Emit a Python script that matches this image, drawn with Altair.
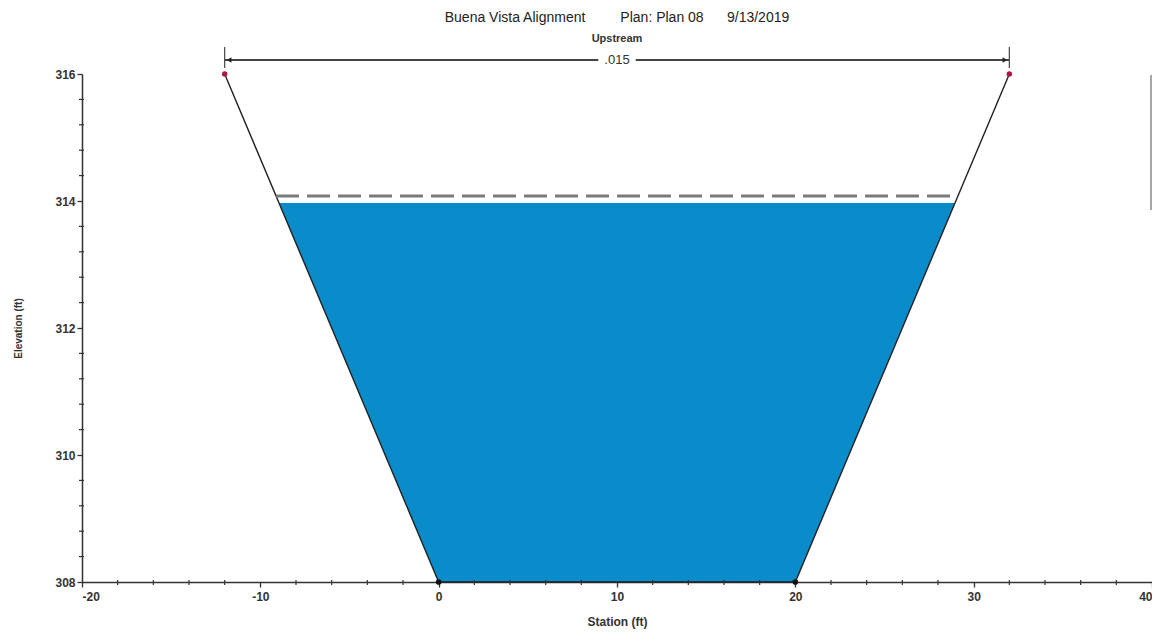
import altair as alt
import numpy as np
import pandas as pd

# ---- data ----
station = [-12.0, 0.0, 20.0, 32.0]          # ground profile stations (ft)
ground_elev = [316.0, 308.0, 308.0, 316.0]  # ground profile elevations (ft)
bank_station = [-12.0, 32.0]                # bank stations (red dots)
bank_elev = [316.0, 316.0]
toe_station = [0.0, 20.0]                   # channel toes (black dots)
toe_elev = [308.0, 308.0]
ws_elev = 313.97                            # water surface
egl_elev = 314.08                           # energy grade line
manning_n = ".015"

x_major = [-20, -10, 0, 10, 20, 30, 40]
y_major = [308, 310, 312, 314, 316]
x_minor = [v for v in range(-20, 41, 2) if v % 10 != 0]
y_minor = [round(308 + 0.4 * i, 1) for i in range(21) if i % 5 != 0]

NB = "\u00a0"
title_text = "Buena Vista Alignment" + NB * 9 + "Plan: Plan 08" + NB * 6 + "9/13/2019"
subtitle_text = "Upstream"

# ---- derived tables ----
ground = pd.DataFrame({"sta": station, "elev": ground_elev})
ws_left = float(np.interp(ws_elev, ground_elev[1::-1], station[1::-1]))
ws_right = float(np.interp(ws_elev, ground_elev[2:], station[2:]))
water = pd.DataFrame({
    "elev": [min(ground_elev), ws_elev],
    "xl": [station[1], ws_left],
    "xr": [station[2], ws_right],
})
egl_left = float(np.interp(egl_elev, ground_elev[1::-1], station[1::-1]))
egl_right = float(np.interp(egl_elev, ground_elev[2:], station[2:]))
egl = pd.DataFrame({"x": [egl_left], "x2": [egl_right], "y": [egl_elev]})
banks = pd.DataFrame({"sta": bank_station, "elev": bank_elev})
toes = pd.DataFrame({"sta": toe_station, "elev": toe_elev})
mid = (bank_station[0] + bank_station[1]) / 2
gap = 1.05
arrow_segs = pd.DataFrame({"x": [bank_station[0], mid + gap], "x2": [mid - gap, bank_station[1]]})
n_label = pd.DataFrame({"x": [mid], "t": [manning_n]})
arrow_heads = pd.DataFrame({"x": [bank_station[0] + 0.25, bank_station[1] - 0.25],
                            "shape": ["triangle-left", "triangle-right"]})
xminor_df = pd.DataFrame({"v": x_minor})
yminor_df = pd.DataFrame({"v": y_minor})

FONT = "Liberation Sans"
xdom = [-20, 40]
ydom = [308, 316]
PLOT_H = 508

xscale = alt.Scale(domain=xdom, nice=False, zero=False)
yscale = alt.Scale(domain=ydom, nice=False, zero=False)

xaxis = alt.Axis(
    values=x_major, title="Station (ft)", grid=False, labelOverlap=False,
    labelExpr="'' + round(datum.value)", tickSize=5,
    labelPadding=4, titlePadding=14, titleFontSize=12,
)
yaxis = alt.Axis(
    values=y_major, title="Elevation (ft)", grid=False, labelOverlap=False,
    labelExpr="'' + round(datum.value)", tickSize=5,
    labelPadding=2, titlePadding=31, titleFontSize=10,
)

WATER = "#0a8bca"
AXC = "#333333"

area = alt.Chart(water).mark_area(orient="horizontal", color=WATER, opacity=1).encode(
    y=alt.Y("elev:Q", scale=yscale, axis=yaxis),
    x=alt.X("xl:Q", scale=xscale, axis=xaxis, stack=None),
    x2="xr:Q",
)

ground_line = alt.Chart(ground).mark_line(color="#222222", strokeWidth=1.4, clip=False).encode(
    x=alt.X("sta:Q", scale=xscale),
    y=alt.Y("elev:Q", scale=yscale),
    order=alt.Order("sta:Q"),
)

egl_line = alt.Chart(egl).mark_rule(color="#7a7a7a", strokeWidth=3, strokeDash=[23, 8]).encode(
    x=alt.X("x:Q", scale=xscale), x2="x2:Q", y=alt.Y("y:Q", scale=yscale)
)

bank_pts = alt.Chart(banks).mark_point(filled=True, color="#b0163f", size=30, opacity=1, clip=False).encode(
    x=alt.X("sta:Q", scale=xscale), y=alt.Y("elev:Q", scale=yscale)
)
toe_pts = alt.Chart(toes).mark_point(filled=True, color="#111111", size=32, opacity=1, clip=False).encode(
    x=alt.X("sta:Q", scale=xscale), y=alt.Y("elev:Q", scale=yscale)
)

arrow = alt.Chart(arrow_segs).mark_rule(color="#444444", strokeWidth=2, clip=False).encode(
    x=alt.X("x:Q", scale=xscale), x2="x2:Q", y=alt.value(-14)
)
ends = alt.Chart(banks).mark_rule(color="#444444", strokeWidth=1.2, clip=False).encode(
    x=alt.X("sta:Q", scale=xscale), y=alt.value(-27), y2=alt.value(-6)
)
heads = alt.Chart(arrow_heads).mark_point(filled=True, color="#222222", size=28, opacity=1, clip=False).encode(
    x=alt.X("x:Q", scale=xscale), y=alt.value(-14),
    shape=alt.Shape("shape:N", scale=None, legend=None),
)
n_text = alt.Chart(n_label).mark_text(font=FONT, fontSize=13, color="#333333", baseline="middle", clip=False).encode(
    x=alt.X("x:Q", scale=xscale), y=alt.value(-14), text="t:N"
)
legend_edge = alt.Chart(n_label).mark_rule(color="#8a8a8a", strokeWidth=1.5, clip=False).encode(
    x=alt.value(1069), y=alt.value(1), y2=alt.value(136)
)

# minor ticks along both axes
xminor = alt.Chart(xminor_df).mark_rule(color=AXC, strokeWidth=1.2, clip=False).encode(
    x=alt.X("v:Q", scale=xscale), y=alt.value(PLOT_H - 2), y2=alt.value(PLOT_H + 3)
)
yminor = alt.Chart(yminor_df).mark_rule(color=AXC, strokeWidth=1.2, clip=False).encode(
    y=alt.Y("v:Q", scale=yscale), x=alt.value(-3), x2=alt.value(2)
)

chart = alt.layer(
    area, ground_line, egl_line, bank_pts, toe_pts, arrow, ends, heads, n_text,
    legend_edge, xminor, yminor
).properties(
    width=1070, height=PLOT_H,
    autosize=alt.AutoSizeParams(type="none"),
    padding={"left": 74, "top": 66, "right": 0, "bottom": 47},
    title=alt.TitleParams(
        text=title_text, subtitle=subtitle_text, anchor="middle", offset=2,
        font=FONT, fontSize=14, fontWeight="normal", color="#222222",
        subtitleFont=FONT, subtitleFontSize=11, subtitleFontWeight="bold",
        subtitleColor="#333333", subtitlePadding=8,
    ),
).configure_view(stroke=None).configure_axis(
    labelFont=FONT, labelFontSize=12, labelFontWeight="bold", labelColor=AXC,
    titleFont=FONT, titleFontWeight="bold", titleColor=AXC,
    domainColor=AXC, domainWidth=1.5, tickColor=AXC, tickWidth=1.3,
)

chart.save("out.html", embed_options={"renderer": "svg", "actions": False})
